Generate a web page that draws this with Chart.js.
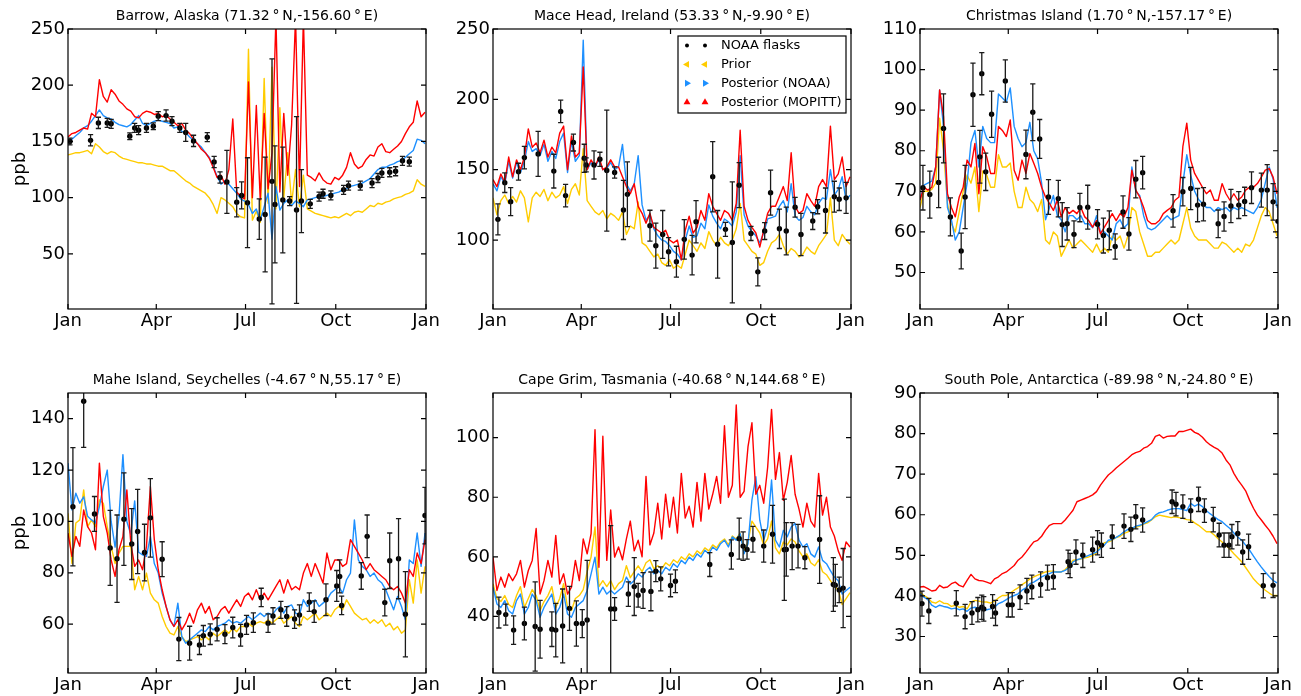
<!DOCTYPE html>
<html>
<head>
<meta charset="utf-8">
<title>CO at surface stations</title>
<script src="https://cdn.jsdelivr.net/npm/chart.js@4/dist/chart.umd.min.js"></script>
<style>
  html, body { margin: 0; padding: 0; background: #fff; }
  body { width: 1301px; height: 696px; position: relative; overflow: hidden; }
  canvas { position: absolute; }
</style>
</head>
<body>
<script>
// Model CO (ppb) sampled every STEP_DAYS days from 1 January; flask samples with 1-sigma errors.
const STEP_DAYS = 4;
const monthTicks = [0, 90, 181, 273, 365];
const monthLabels = ['Jan', 'Apr', 'Jul', 'Oct', 'Jan'];
const seriesLabels = ['NOAA flasks', 'Prior', 'Posterior (NOAA)', 'Posterior (MOPITT)'];

// ---- Barrow, Alaska ----
const barrowPrior = [138,139,140,140,141,142,139,148,145,141, 139,141,140,137,135,134,133,132,131,131, 130,130,129,128,128,126,124,124,121,118, 115,113,110,108,106,104,100,94,86,100, 98,95,92,86,83,82,232,80,88,78, 206,95,216,90,180,100,140,95,125,92, 120,90,88,86,85,84,83,82,83,82, 84,86,84,87,88,87,90,93,92,95, 94,96,97,99,100,101,103,104,106,116, 112,110];
const barrowNoaa = [150,152,155,158,162,164,168,173,178,173, 171,170,167,165,164,163,165,169,173,166, 164,166,168,169,168,167,166,162,163,159, 158,154,151,148,145,140,136,128,119,112, 115,112,108,104,99,97,94,86,90,80, 92,104,63,110,89,95,98,93,97,95, 92,98,99,100,101,101,102,103,104,105, 107,108,110,111,112,113,115,117,121,125, 127,127,129,130,132,133,136,139,142,152, 151,148];
const barrowMopitt = [154,157,158,160,162,161,175,172,205,190, 185,196,192,186,183,179,177,172,171,175, 177,176,174,175,172,173,170,167,164,166, 160,157,152,148,143,140,135,127,118,120, 112,125,170,105,101,99,203,100,182,98, 175,108,140,260,105,175,120,165,260,110, 260,120,118,115,122,116,113,112,118,116, 120,127,140,130,126,128,134,138,137,145, 148,141,140,143,146,150,157,163,167,186, 172,176];
const barrowFlaskDay = [2,23,31,40,44,63,68,72,80,87,92,100,106,114,120,128,142,149,155,162,172,177,183,195,201,208,211,219,226,233,238,247,256,260,268,281,286,298,310,316,320,328,334,341,348];
const barrowFlaskPpb = [150,151,166.5,166.5,165.7,154.7,162,160,162,163.6,172.5,173,168,162,158,150.5,153.8,131.8,118,114,96,102,95.5,81,85,114.5,94,98,97,89,97,94.5,101,103.5,102,107,110.7,110.7,113,117.5,122,122.6,123.5,132.8,132];
const barrowFlaskErr = [3,5,5,4,4,3,4,4,4,3,4,5,4,4,8,5,4,5,5,28,13,12,40,18,51,109,52,47,4,83,28,4,4,4,4,4,4,4,4,4,4,4,4,4,4];

// ---- Mace Head, Ireland ----
const macePrior = [130,118,128,132,126,131,127,135,130,113, 130,134,131,136,128,134,130,132,138,126, 136,140,132,165,128,124,120,118,121,115, 119,117,114,120,104,110,108,127,98,96, 92,88,90,84,82,86,80,82,80,90, 100,96,92,98,94,106,100,96,102,98, 96,100,108,126,100,96,92,90,82,84, 92,98,100,104,96,90,94,92,88,90, 95,92,90,96,100,104,130,100,96,104, 100,97];
const maceNoaa = [140,135,145,140,156,144,155,148,156,170, 163,165,160,168,156,163,158,170,176,148, 170,156,160,242,150,155,152,157,150,151, 155,150,152,168,140,135,140,160,125,114, 118,108,103,100,99,96,92,90,86,100, 110,102,103,112,108,125,117,112,108,115, 113,110,120,160,118,110,106,103,98,105, 115,116,117,124,128,120,140,117,114,116, 124,120,118,126,130,129,150,132,136,145, 128,132];
const maceMopitt = [143,138,147,141,159,145,157,150,159,179, 166,169,162,171,159,166,162,176,181,150, 174,159,162,223,150,157,152,159,150,152, 157,152,152,145,138,133,140,124,119,112, 119,109,107,105,107,100,98,100,86,107, 117,105,109,121,114,133,124,119,114,121, 119,114,126,178,124,114,109,105,95,107, 119,124,124,131,138,128,162,124,119,121, 133,128,124,138,143,138,181,143,147,159, 138,145];
const maceFlaskDay = [5,12,18,26,32,46,62,69,74,82,93,95,103,109,116,124,133,137,160,166,173,179,187,195,203,207,224,229,237,244,251,263,270,277,283,292,299,308,314,326,331,339,348,353,360];
const maceFlaskPpb = [114.7,140.8,127.3,148.6,158.6,161.2,149,191.4,131.6,169.3,158.1,153.4,153.4,157.4,149.4,148,121.4,132.5,110.2,96,104,91.7,84.6,100.5,89.3,113,145,97,107.6,98.3,139,104.7,77.4,106.4,133.7,108,106.4,123.3,104,113.5,123.7,121,130.8,129,130];
const maceFlaskErr = [11,7,10,6,8,16,12,8,8,6,10,5,10,5,43,4,21,23,11,16,17,10,11,14,14,15,25,24,5,43,16,5,10,6,16,14,17,7,15,6,5,16,11,8,11];

// ---- Christmas Island ----
const christmasPrior = [66,70,70,70.5,72,88,80,67,62,60, 65,70,74,72,76,65,75,74,71,71, 79,76,76,77,70,66,66,71,68,67, 65,68,58,57,60,59,54,56,58,56, 57,58,57,56,55,57,55,56,55,59, 58,59,56,59,66,65,60,57,54,54, 55,55,56,57,58,57,58,62,66,61, 59,58,58,58,57,56,56,57.5,57,56, 55,56,55,57,56.5,58,61,64,66,65, 62,59];
const christmasNoaa = [68,71.5,72,72.5,76,95,86,66,63,58, 60,66,72,82,85,76,86,83,82,82, 94,93,92,95.5,86,83,81,82,87,80, 78,72,63,66,69,64,63,60,64,64, 63,64,62,62,61,64,60,60,59,58, 62,63,61,62,76,70,69,64,61,60.5, 61,62,63,64,63,63.5,64,72,79,74, 70,68,67,66,66,65,66,65.5,66,65, 66,65.5,66,65.5,65,64.5,66,68,72,76, 73,66];
const christmasMopitt = [67.8,71,70.3,71,76,95,88.4,69.4,66,63.7, 68.6,71,77.7,76,81.8,69.4,81,78.5,74.4,74.4, 86,85,83.5,87.6,75.2,72.7,77.7,74.4,79.3,76.9, 74.4,71,68.6,67,65.3,67.8,63.7,66,64.5,65.3, 64.5,66,63.7,62.8,61.2,62.8,59.5,61.2,62.8,64.5, 62.8,64.5,63.7,66,75.2,70.3,68.6,66,62.8,62, 62,62.8,64.5,65.3,66,67.8,68.6,81,86.8,77.7, 74.4,72.7,71,69.4,70.3,67.8,67.8,71.9,69.4,67.8, 69.4,67.8,68.6,70.3,71,71,71.9,73.5,75.2,75.6, 73.5,69.4];
const christmasFlaskDay = [3,10,19,24,31,42,46,54,61,63,67,73,87,108,115,122,131,141,145,150,157,163,171,181,187,193,199,207,213,220,227,258,268,276,283,289,304,310,317,325,331,338,348,354,360,365];
const christmasFlaskPpb = [70.9,69.2,72.2,85.5,63.7,55.3,68.6,93.8,78.5,99,74.8,89,97.2,79.1,89.5,82.9,68.6,68.2,61.8,62,59.4,66,66.1,61.9,59.1,60.4,56.4,64.9,59.5,73,74.6,65.2,69.9,70.7,66.6,66.8,62,63.8,66.4,66.6,67.5,70.9,70.3,70.3,67.4,62.6];
const christmasFlaskErr = [5.5,5.8,6.2,8.5,4.7,4.4,7.8,7.8,6.5,5.2,4.6,5.7,5.2,6,7,4.8,4.3,4.5,5.4,4,3.3,3.5,5.4,3.6,4.3,4.8,3.1,4,4,4.6,4,4,3.5,5.2,4.1,4.1,3.4,3.6,4.1,3.3,3.5,3.9,4.2,6.3,4.5,4];

// ---- Mahe Island, Seychelles ----
const mahePrior = [103.2,83.6,99.4,100.6,112.3,98,100.6,98,108.4,107.1, 98,90.3,83.6,87.7,90.3,90.3,90.3,73.4,78.6,73.4, 79.9,72.1,69.5,68.2,63,59.1,56.5,55.8,59.1,55.2, 53.2,53.9,54.5,55.2,53.9,55.2,53.9,56.5,55.2,56.5, 57.8,56.5,58.4,57.1,59.1,59.1,60.4,59.1,60.4,61, 60.4,61.7,60.4,61.7,63,60.4,61.7,63,60.4,59.1, 63,61.7,63,64.3,61.7,63,64.3,63,65.6,66.9, 65.6,69.5,66.9,64.3,63,61.7,62.3,60.4,61.7,60.4, 61.7,59.1,60.4,57.8,59.1,56.5,57.8,77.3,68.2,85, 72.1,82.5];
const maheNoaa = [122.7,104.5,111,107.1,109.6,102,100.6,99.4,105.8,113.6, 120,100,90,102,126,100,95,108,88,87, 86.4,94.2,83.6,79.9,72.1,66.9,61.7,59.1,68.2,55.2, 52.6,53.9,55.2,56.5,57.8,57.1,59.1,57.8,59.1,59.7, 60.4,61.7,60.4,61,60.4,61.7,63,61.7,63,64.3, 63,64.3,63.6,65.6,66.9,64.3,66.9,67.5,64.3,63.6, 69.5,66.9,68.2,69.5,66.9,68.2,69.5,72.1,73.4,74.7, 72.1,77.3,79.9,100.6,85,82.5,81.2,78.6,79.9,77.3, 76,73.4,69.5,65.6,70.8,66.9,61.7,85,83.6,95.5, 82.5,95.5];
const maheMopitt = [95.5,86.4,94.2,90.3,104.5,98,95.5,89,122.7,102, 95.5,85,78.6,89,94.2,112.3,91.6,82.5,85,81.2, 90.3,113.6,92.9,81.2,73.4,66.9,61.7,59.1,61.7,57.8, 60.4,64.3,60.4,65.6,68.2,64.3,66.9,61.7,63,65.6, 66.9,64.3,66.9,69.5,66.9,70.8,72.1,69.5,73.4,69.5, 72.1,69.5,72.1,74.7,77.3,72.1,77.3,73.4,74.7,73.4, 79.9,83.6,78.6,83.6,79.9,76,87.7,81.2,85,85, 82.5,83.6,92.9,90.3,87.7,85,81.2,83.6,81.2,79.9, 78.6,77.3,74.7,73.4,74.7,72.1,68.2,81.2,78.6,87.7, 83.6,92.9];
const maheFlaskDay = [5,16,27,43,50,57,65,71,78,84,96,113,124,134,138,145,152,160,168,176,182,189,197,204,209,217,223,231,236,246,251,263,274,277,279,299,305,323,328,337,344,364];
const maheFlaskPpb = [105.7,146.8,102.9,89.7,85.5,100.9,91.2,96.1,87.9,101.4,85.3,54.2,52.6,51.9,55.5,56.1,58,56.1,58.7,55.7,59.7,60.6,70.4,60.4,63.2,65.6,63,62,63.6,68.6,64.9,69.5,74.9,78.6,67.3,78.8,94.2,68.4,84.7,85.5,63.9,102.3];
const maheFlaskErr = [23,18,6.8,14.6,17,18,13.8,16.4,11,15.3,6.8,8.4,6.6,3.7,4,4,4.5,3.7,4,4.2,3.7,3.8,3.6,3.6,3.2,3.3,3.8,3.6,3.9,3.6,4.2,6.2,6,6.4,3.6,5.2,8.3,5.2,10.8,15.6,16.6,11];

// ---- Cape Grim, Tasmania ----
const capeGrimPrior = [51,46,45,47,44,43,47,50,43,46, 49,47,42,45,47,50,43,46,51,43, 42,46,47,49,55,60,70,50,52,50, 52,49,51,52,57,53,55,57,55,58, 59,56,57,56,58,57,59,58,60,59, 61,60,62,61,63,62,64,63,65,66, 64,67,66,68,62,65,72,70,68,64, 66,72,63,61,65,64,66,65,62,60, 61,58,57,59,55,54,52,50,49,44, 46,48];
const capeGrimNoaa = [49.8,44.2,43,45.3,41.9,40.8,45.3,47.5,40.8,43, 47.5,45.3,39.7,43,45.3,47.5,40.8,43,47.5,40.8, 39.7,43,44.2,45.3,48.7,54.3,59.9,47.5,49.8,47.5, 48.7,47.5,48.7,49.8,53.2,50.9,52,54.3,53.2,55.4, 56.5,54.3,55.4,54.3,56.5,55.4,57.7,56.5,58.8,57.7, 59.9,58.8,61,59.9,62.2,61,63.3,62.2,64.4,65.6, 63.3,66.7,65.6,67.8,61,64.4,79.1,86.9,72.3,65.6, 70,85.8,65.6,63.3,68.9,66.7,70,71.2,65.6,63.3, 64.4,61,59.9,63.3,58.8,57.7,55.4,53.2,52,47.5, 48.7,49.8];
const capeGrimMopitt = [59.9,48.7,53.2,49.8,54.3,52,54.3,58.8,49.8,55.4, 58.8,69.5,47.5,52,58.8,53.2,67.2,50.9,54.3,47.5, 49.8,58.8,52,66,61,67.8,102.7,56.5,100.5,58.8, 75.7,59.9,63.3,59,66,72,62,65.6,60,87, 64,68,78,66,81,70,80,68,88,73, 77,70,85,72,88,76,81,87,78,104, 80,84,111,80,82,97,105,81,84,78, 90,109.5,86,95,79,85,94,81,76,70, 78,72,70,88,74,80,70,67,62,58.8, 65,63.3];
const capeGrimFlaskDay = [6,13,21,32,43,48,60,64,71,78,85,91,96,120,124,138,144,148,153,161,166,171,181,186,221,243,251,255,259,265,276,285,297,299,305,311,318,333,347,349,353,357];
const capeGrimFlaskPpb = [41.3,40.6,35.4,37.6,36.6,35.7,35.7,35.4,36.8,42.7,37.6,37.6,38.8,42.5,42.5,47.5,50,47.1,48.7,48.4,55.2,52.6,50.4,51.8,57.4,60.8,66.1,63.6,62.5,65.9,63.6,67.6,62.4,62.5,63.6,63.6,59.7,65.8,50.7,50.5,48.9,49.5];
const capeGrimFlaskErr = [5.2,3.5,4.8,5.5,15,9.7,5.8,9,12.4,7.4,7.6,4.7,20,28,3.8,4.1,9.7,4,6,6.5,3.5,4,3.8,3.8,4,4.9,6.9,4.8,3.3,4.3,5.4,9.7,17,9,7.9,7.3,3.7,14.7,9,7,4.3,13.3];

// ---- South Pole, Antarctica ----
const southPolePrior = [40.9,40.1,39.5,38.5,38.2,38.8,38.2,38.1,37.4,37.7, 37.2,37.4,36.8,38.5,38.9,38.7,38.5,38.5,38.2,38.7, 39.5,40.1,40.1,40.7,41.4,42,42.8,43.4,44.2,44.7, 45.1,45.5,45.9,46.1,46.1,45.9,45.9,46.5,47.5,48.8, 48.9,49.1,49.4,49.6,50,50.6,52.5,53.1,53.3,53.7, 54.4,54.7,55.4,55.8,56.4,56.9,57.2,57.7,58,58.7, 59.5,59.9,59.7,59.5,59.3,59.5,59.3,59.1,58.8,58.7, 58,57.4,56.6,55.8,55.8,55,54.1,53.3,52.5,51.5, 50.4,49.4,48.4,47,45.6,44.2,43.2,42.3,41.4,40.7, 40.1,40.1];
const southPoleNoaa = [40.5,39.7,39.1,37.7,37.2,37.7,37.4,37.2,36.8,37, 36.6,36.8,36.2,37,37.2,36.8,36.6,36.6,36.8,37.2, 38.1,38.5,39.1,39.7,40.1,40.5,41.4,42,43,43.4, 44,44.7,45.1,45.5,45.9,45.9,45.9,46.3,47,48.4, 48.9,49.2,49.6,50,50.4,50.8,51.7,52.5,53.7,53.9, 54.4,55,55.8,56.4,56.6,57.2,57.4,57.8,58.3,58.8, 59.9,60.5,60.7,61.1,61.4,61.5,61.5,61.3,61,62.8, 62.1,62.6,62,61,60.2,59.5,58.8,58.3,57.4,56.6, 55.5,54.5,53.7,52.5,51.3,49.8,48.4,47.1,45.9,44.8, 43.8,43.2];
const southPoleMopitt = [42.2,42.3,41.8,41.2,41.4,42.6,42,42.2,43,43.4, 42.6,42.2,43.8,45.3,44.2,43.8,43.7,43.4,43,44.2, 44.7,45.5,45.9,46.7,47.5,48.8,49.6,50.8,52.1,53.3, 53.7,54.7,56.2,57.4,57.8,57.8,57.8,58.7,59.9,61.1, 63.2,63.6,64,64.4,64.9,65.7,67.3,68.6,69.8,70.6, 71.5,72.3,73.1,73.9,74.8,75.3,75.6,76.4,76.8,77.6, 79.3,79.7,78.9,79.3,79.4,79.4,80.5,80.5,80.8,81.1, 80.3,79.9,79.1,78,77.2,76.6,76.1,75.2,73.5,72.3, 70.2,68.6,67.3,65.9,63.6,61.6,59.9,58.7,57.4,56.2, 54.7,52.9];
const southPoleFlaskDay = [2,9,37,46,53,59,63,65,74,77,90,94,102,109,114,123,130,136,151,153,159,166,176,181,185,196,208,215,220,227,257,261,268,276,284,290,299,305,310,315,318,324,329,335,350,360];
const southPoleFlaskPpb = [38.1,36.3,38.2,34.9,35.8,36.6,37.2,36.8,37.4,35.8,37.8,37.8,39.7,41.2,42.2,42.8,44.5,44.7,48.4,47.5,50.8,50,51.4,53.1,52.5,54.6,57.2,56.4,59.5,58.7,63.2,62.6,62,61,63.8,61,58.8,55,52.5,52.5,54.6,55.4,50.8,52.1,42.5,42.6];
const southPoleFlaskErr = [3.1,3.1,3.1,3,2.8,3,3,3,2.9,3.1,3,3,3,3.1,2.9,3.1,3.1,3,2.9,3,3,3,3.1,3,3,2.9,3,3,3,3,2.9,2.9,2.9,2.9,3,2.9,3,2.9,3,3,3,2.9,3,3.1,3,3];

// ---- Panel layout ----
const PLOT_W = 358, PLOT_H = 280;
const AXIS_W = 68, TITLE_H = 29, XAXIS_H = 36, RIGHT_PAD = 32;
const COLORS = { flask: '#000000', prior: '#ffcc00', noaa: '#1e90ff', mopitt: '#ff0000' };
const FONT = '"DejaVu Sans", "Liberation Sans", sans-serif';
const DEG = '\u2009\u00b0\u2009';

const panels = [
  { title: 'Barrow, Alaska (71.32' + DEG + 'N,-156.60' + DEG + 'E)', left: 68, top: 29, yMin: 1, yMax: 250, yTicks: [50,100,150,200,250],
    prior: barrowPrior, noaa: barrowNoaa, mopitt: barrowMopitt, fDay: barrowFlaskDay, fPpb: barrowFlaskPpb, fErr: barrowFlaskErr, yTitle: true },
  { title: 'Mace Head, Ireland (53.33' + DEG + 'N,-9.90' + DEG + 'E)', left: 493, top: 29, yMin: 51, yMax: 250, yTicks: [100,150,200,250],
    prior: macePrior, noaa: maceNoaa, mopitt: maceMopitt, fDay: maceFlaskDay, fPpb: maceFlaskPpb, fErr: maceFlaskErr, legend: true },
  { title: 'Christmas Island (1.70' + DEG + 'N,-157.17' + DEG + 'E)', left: 920, top: 29, yMin: 41, yMax: 110, yTicks: [50,60,70,80,90,100,110],
    prior: christmasPrior, noaa: christmasNoaa, mopitt: christmasMopitt, fDay: christmasFlaskDay, fPpb: christmasFlaskPpb, fErr: christmasFlaskErr },
  { title: 'Mahe Island, Seychelles (-4.67' + DEG + 'N,55.17' + DEG + 'E)', left: 68, top: 393, yMin: 41, yMax: 150, yTicks: [60,80,100,120,140],
    prior: mahePrior, noaa: maheNoaa, mopitt: maheMopitt, fDay: maheFlaskDay, fPpb: maheFlaskPpb, fErr: maheFlaskErr, yTitle: true },
  { title: 'Cape Grim, Tasmania (-40.68' + DEG + 'N,144.68' + DEG + 'E)', left: 493, top: 393, yMin: 21, yMax: 115, yTicks: [40,60,80,100],
    prior: capeGrimPrior, noaa: capeGrimNoaa, mopitt: capeGrimMopitt, fDay: capeGrimFlaskDay, fPpb: capeGrimFlaskPpb, fErr: capeGrimFlaskErr },
  { title: 'South Pole, Antarctica (-89.98' + DEG + 'N,-24.80' + DEG + 'E)', left: 920, top: 393, yMin: 21, yMax: 90, yTicks: [30,40,50,60,70,80,90],
    prior: southPolePrior, noaa: southPoleNoaa, mopitt: southPoleMopitt, fDay: southPoleFlaskDay, fPpb: southPoleFlaskPpb, fErr: southPoleFlaskErr }
];

function sampled(values) {
  return values.map((v, i) => ({ x: i * STEP_DAYS, y: v }));
}

// Panel title above the plot frame
const panelTitle = {
  id: 'panelTitle',
  afterDraw(chart, args, opts) {
    const { ctx, chartArea: a } = chart;
    ctx.save();
    ctx.font = '14px ' + FONT;
    ctx.fillStyle = '#000';
    ctx.textAlign = 'center';
    ctx.textBaseline = 'middle';
    ctx.fillText(opts.text, (a.left + a.right) / 2, a.top - 13);
    ctx.restore();
  }
};

// Vertical error bars with caps for the flask samples
const flaskErrors = {
  id: 'flaskErrors',
  afterDatasetsDraw(chart, args, opts) {
    const { ctx, chartArea: a, scales: { x, y } } = chart;
    ctx.save();
    ctx.beginPath();
    ctx.rect(a.left, a.top, a.right - a.left, a.bottom - a.top);
    ctx.clip();
    ctx.strokeStyle = '#1a1a1a';
    ctx.lineWidth = 1.3;
    opts.day.forEach((d, i) => {
      const px = x.getPixelForValue(d);
      const yHi = y.getPixelForValue(opts.ppb[i] + opts.err[i]);
      const yLo = y.getPixelForValue(opts.ppb[i] - opts.err[i]);
      ctx.beginPath();
      ctx.moveTo(px, yHi); ctx.lineTo(px, yLo);
      ctx.moveTo(px - 2.6, yHi); ctx.lineTo(px + 2.6, yHi);
      ctx.moveTo(px - 2.6, yLo); ctx.lineTo(px + 2.6, yLo);
      ctx.stroke();
    });
    ctx.restore();
  }
};

// Axes frame with inward tick marks on all four sides
const frameTicks = {
  id: 'frameTicks',
  afterDraw(chart) {
    const { ctx, chartArea: a, scales: { x, y } } = chart;
    const L = 5;
    ctx.save();
    ctx.strokeStyle = '#000';
    ctx.lineWidth = 1.2;
    ctx.strokeRect(a.left, a.top, a.right - a.left, a.bottom - a.top);
    ctx.beginPath();
    x.ticks.forEach(t => {
      const px = x.getPixelForValue(t.value);
      ctx.moveTo(px, a.bottom); ctx.lineTo(px, a.bottom - L);
      ctx.moveTo(px, a.top); ctx.lineTo(px, a.top + L);
    });
    y.ticks.forEach(t => {
      const py = y.getPixelForValue(t.value);
      ctx.moveTo(a.left, py); ctx.lineTo(a.left + L, py);
      ctx.moveTo(a.right, py); ctx.lineTo(a.right - L, py);
    });
    ctx.stroke();
    ctx.restore();
  }
};

function drawMarker(ctx, style, cx, cy, r) {
  ctx.beginPath();
  if (style === 'circle') {
    ctx.arc(cx, cy, r, 0, Math.PI * 2);
  } else {
    const dir = { left: Math.PI, right: 0, up: -Math.PI / 2 }[style];
    for (let k = 0; k < 3; k++) {
      const ang = dir + k * 2 * Math.PI / 3;
      const px = cx + r * Math.cos(ang), py = cy + r * Math.sin(ang);
      if (k === 0) ctx.moveTo(px, py); else ctx.lineTo(px, py);
    }
    ctx.closePath();
  }
  ctx.fill();
}

// Framed legend in the upper right of the plot
const boxLegend = {
  id: 'boxLegend',
  afterDraw(chart, args, opts) {
    if (!opts.display) return;
    const { ctx, chartArea: a } = chart;
    const w = 168, h = 77;
    const x0 = a.right - 5 - w, y0 = a.top + 7;
    ctx.save();
    ctx.fillStyle = '#fff';
    ctx.fillRect(x0, y0, w, h);
    ctx.strokeStyle = '#000';
    ctx.lineWidth = 1.2;
    ctx.strokeRect(x0, y0, w, h);
    ctx.font = '13px ' + FONT;
    ctx.textAlign = 'left';
    ctx.textBaseline = 'middle';
    const styles = ['circle', 'left', 'right', 'up'];
    const sizes = [2, 4, 4, 4];
    chart.data.datasets.forEach((ds, i) => {
      const cy = y0 + 9.5 + i * 18.9;
      ctx.fillStyle = ds.borderColor;
      drawMarker(ctx, styles[i], x0 + 9, cy, sizes[i]);
      drawMarker(ctx, styles[i], x0 + 27, cy, sizes[i]);
      ctx.fillStyle = '#000';
      ctx.fillText(ds.label, x0 + 43, cy + 0.5);
    });
    ctx.restore();
  }
};

panels.forEach(p => {
  const canvas = document.createElement('canvas');
  const cw = AXIS_W + PLOT_W + RIGHT_PAD, ch = TITLE_H + PLOT_H + XAXIS_H;
  canvas.width = cw; canvas.height = ch;
  canvas.style.width = cw + 'px'; canvas.style.height = ch + 'px';
  canvas.style.left = (p.left - AXIS_W) + 'px';
  canvas.style.top = (p.top - TITLE_H) + 'px';
  document.body.appendChild(canvas);

  const line = (label, values, color, order) => ({
    label, data: sampled(values), borderColor: color, backgroundColor: color,
    borderWidth: 1.4, pointRadius: 0, tension: 0, borderJoinStyle: 'round', order
  });

  new Chart(canvas, {
    type: 'line',
    data: {
      datasets: [
        { label: seriesLabels[0], data: p.fDay.map((d, i) => ({ x: d, y: p.fPpb[i] })),
          showLine: false, pointRadius: 2.7, pointBackgroundColor: COLORS.flask, pointBorderWidth: 0,
          borderColor: COLORS.flask, backgroundColor: COLORS.flask, order: 0 },
        line(seriesLabels[1], p.prior, COLORS.prior, 3),
        line(seriesLabels[2], p.noaa, COLORS.noaa, 2),
        line(seriesLabels[3], p.mopitt, COLORS.mopitt, 1)
      ]
    },
    options: {
      responsive: false,
      animation: false,
      devicePixelRatio: 1,
      events: [],
      layout: { padding: { left: 0, top: TITLE_H, right: RIGHT_PAD, bottom: 0 } },
      plugins: {
        legend: { display: false },
        tooltip: { enabled: false },
        panelTitle: { text: p.title },
        flaskErrors: { day: p.fDay, ppb: p.fPpb, err: p.fErr },
        boxLegend: { display: !!p.legend }
      },
      scales: {
        x: {
          type: 'linear', min: 0, max: 365,
          grid: { display: false, drawTicks: false }, border: { display: false },
          ticks: { autoSkip: false, maxRotation: 0, padding: 2, color: '#000',
                   font: { family: FONT, size: 18 }, callback: (v, i) => monthLabels[i] },
          afterBuildTicks: s => { s.ticks = monthTicks.map(v => ({ value: v })); },
          afterFit: s => { s.height = XAXIS_H; s.paddingLeft = 0; s.paddingRight = 0; }
        },
        y: {
          type: 'linear', min: p.yMin, max: p.yMax,
          grid: { display: false, drawTicks: false }, border: { display: false },
          ticks: { autoSkip: false, padding: 3, color: '#000',
                   font: { family: FONT, size: 18 }, callback: v => String(v) },
          title: { display: !!p.yTitle, text: 'ppb', color: '#000',
                   font: { family: FONT, size: 18 }, padding: { top: 10, bottom: 0 } },
          afterBuildTicks: s => { s.ticks = p.yTicks.map(v => ({ value: v })); },
          afterFit: s => { s.width = AXIS_W; s.paddingTop = 0; s.paddingBottom = 0; }
        }
      }
    },
    plugins: [flaskErrors, frameTicks, panelTitle, boxLegend]
  });
});
</script>
</body>
</html>
